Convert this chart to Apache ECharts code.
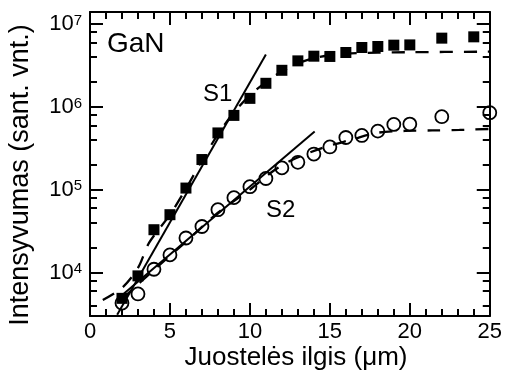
<!DOCTYPE html>
<html>
<head>
<meta charset="utf-8">
<script src="https://cdn.jsdelivr.net/npm/echarts@6/dist/echarts.min.js"></script>
<style>html,body{margin:0;padding:0;background:#fff}#c{width:505px;height:385px}</style>
</head>
<body>
<div id="c"></div>
<script>
// ---- data ----
var s1X = [2,3,4,5,6,7,8,9,10,11,12,13,14,15,16,17,18,19,20,22,24];
var s1Y = [4900,9150,33000,50100,105000,232000,486000,791000,1270000,1930000,2770000,3600000,4100000,4070000,4540000,5220000,5370000,5570000,5610000,6770000,7020000];
var s2X = [2,3,4,5,6,7,8,9,10,11,12,13,14,15,16,17,18,19,20,22,25];
var s2Y = [4300,5540,11000,16400,26200,36100,57600,80500,109000,137000,184000,215000,270000,329000,428000,453000,511000,616000,621000,763000,853000];
var fit1X = [1.7, 11];
var fit1Y = [3100, 4300000];
var fit2X = [2, 14.05];
var fit2Y = [5350, 507000];
var dash1X = [0.8,2,3,3.7,5,6,7,8,9,10,11,12,13,14,15,16,18,20,25];
var dash1Y = [4690,6550,11400,23000,50100,103000,226000,466000,861000,1380000,1990000,2700000,3370000,3880000,4210000,4400000,4520000,4580000,4650000];
var dash2X = [2,4,6,8,10,11.5,12.7,14.6,16.4,17.9,19.7,21.4,23.1,25];
var dash2Y = [4800,10800,23600,53000,100500,171000,232000,324000,405000,486000,514000,521000,528000,543000];
var yMajor = [1e4,1e5,1e6,1e7];
var yMinor = [4000,6000,8000,20000,40000,60000,80000,200000,400000,600000,800000,2000000,4000000,6000000,8000000];
var xTitle = 'Juostelės ilgis (\u03bcm)';
var yTitle = 'Intensyvumas (sant. vnt.)';

function pairs(xs, ys){ return xs.map(function(x,i){ return [x, ys[i]]; }); }

var FONT = 'Liberation Sans, Arial, sans-serif';
var yMin = 3000, yMax = 14000000;

function yAx(pos, ticks, len, showLine, showLabel){
  return {
    type: 'log', logBase: 10, position: pos, min: yMin, max: yMax,
    axisLine: {show: showLine, onZero: false, lineStyle: {color: '#000', width: 2}},
    axisTick: {show: true, inside: true, length: len, customValues: ticks, lineStyle: {color: '#000', width: 2}},
    minorTick: {show: false},
    axisLabel: showLabel ? {
      show: true, customValues: yMajor, margin: 8,
      formatter: function(v){ return '{b|10}{s|' + Math.round(Math.log10(v)) + '}'; },
      rich: {
        b: {fontFamily: FONT, fontSize: 22, color: '#000', verticalAlign: 'bottom'},
        s: {fontFamily: FONT, fontSize: 15, color: '#000', verticalAlign: 'top'}
      }
    } : {show: false},
    splitLine: {show: false}
  };
}
function xAx(pos, showLabel){
  return {
    type: 'value', position: pos, min: 0, max: 25, interval: 5,
    axisLine: {show: true, onZero: false, lineStyle: {color: '#000', width: 2}},
    axisTick: {show: true, inside: true, length: 13, lineStyle: {color: '#000', width: 2}},
    minorTick: {show: true, splitNumber: 5, length: 7, lineStyle: {color: '#000', width: 2}},
    axisLabel: showLabel ? {show: true, fontFamily: FONT, fontSize: 22, color: '#000', margin: 5} : {show: false},
    splitLine: {show: false}
  };
}

var chart = echarts.init(document.getElementById('c'), null, {renderer: 'canvas'});
var lineBase = {type: 'line', showSymbol: false, symbol: 'none', xAxisIndex: 0, yAxisIndex: 0, silent: true, animation: false};
chart.setOption({
  animation: false,
  backgroundColor: '#fff',
  grid: {left: 90, right: 14, top: 12, bottom: 69, containLabel: false},
  xAxis: [xAx('bottom', true), xAx('top', false)],
  yAxis: [
    yAx('left', yMajor, 13, true, true),
    yAx('left', yMinor, 7, false, false),
    yAx('right', yMajor, 13, true, false),
    yAx('right', yMinor, 7, false, false)
  ],
  graphic: [
    {type: 'text', x: 296, y: 358, style: {text: xTitle, font: '26px ' + FONT, fill: '#000', align: 'center', verticalAlign: 'middle'}},
    {type: 'text', x: 21, y: 175, rotation: Math.PI / 2, style: {text: yTitle, font: '27px ' + FONT, fill: '#000', align: 'center', verticalAlign: 'middle'}},
    {type: 'text', x: 107, y: 44, style: {text: 'GaN', font: '28px ' + FONT, fill: '#000', verticalAlign: 'middle'}},
    {type: 'text', x: 203, y: 94, style: {text: 'S1', font: '24px ' + FONT, fill: '#000', verticalAlign: 'middle'}},
    {type: 'text', x: 266, y: 210, style: {text: 'S2', font: '24px ' + FONT, fill: '#000', verticalAlign: 'middle'}}
  ],
  series: [
    Object.assign({}, lineBase, {data: pairs(dash1X, dash1Y), smooth: 0.3, lineStyle: {color: '#000', width: 2.3, type: [13, 11]}}),
    Object.assign({}, lineBase, {data: pairs(dash2X, dash2Y), smooth: 0.3, lineStyle: {color: '#000', width: 2.3, type: [13, 11]}}),
    Object.assign({}, lineBase, {data: pairs(fit1X, fit1Y), lineStyle: {color: '#000', width: 2}}),
    Object.assign({}, lineBase, {data: pairs(fit2X, fit2Y), lineStyle: {color: '#000', width: 2}}),
    {type: 'scatter', xAxisIndex: 0, yAxisIndex: 0, data: pairs(s1X, s1Y), symbol: 'rect', symbolSize: 11,
     itemStyle: {color: '#000', opacity: 1}, silent: true, z: 3},
    {type: 'scatter', xAxisIndex: 0, yAxisIndex: 0, data: pairs(s2X, s2Y), symbol: 'circle', symbolSize: 13,
     itemStyle: {color: 'rgba(0,0,0,0)', borderColor: '#000', borderWidth: 1.8, opacity: 1}, silent: true, z: 3}
  ]
});
</script>
</body>
</html>
